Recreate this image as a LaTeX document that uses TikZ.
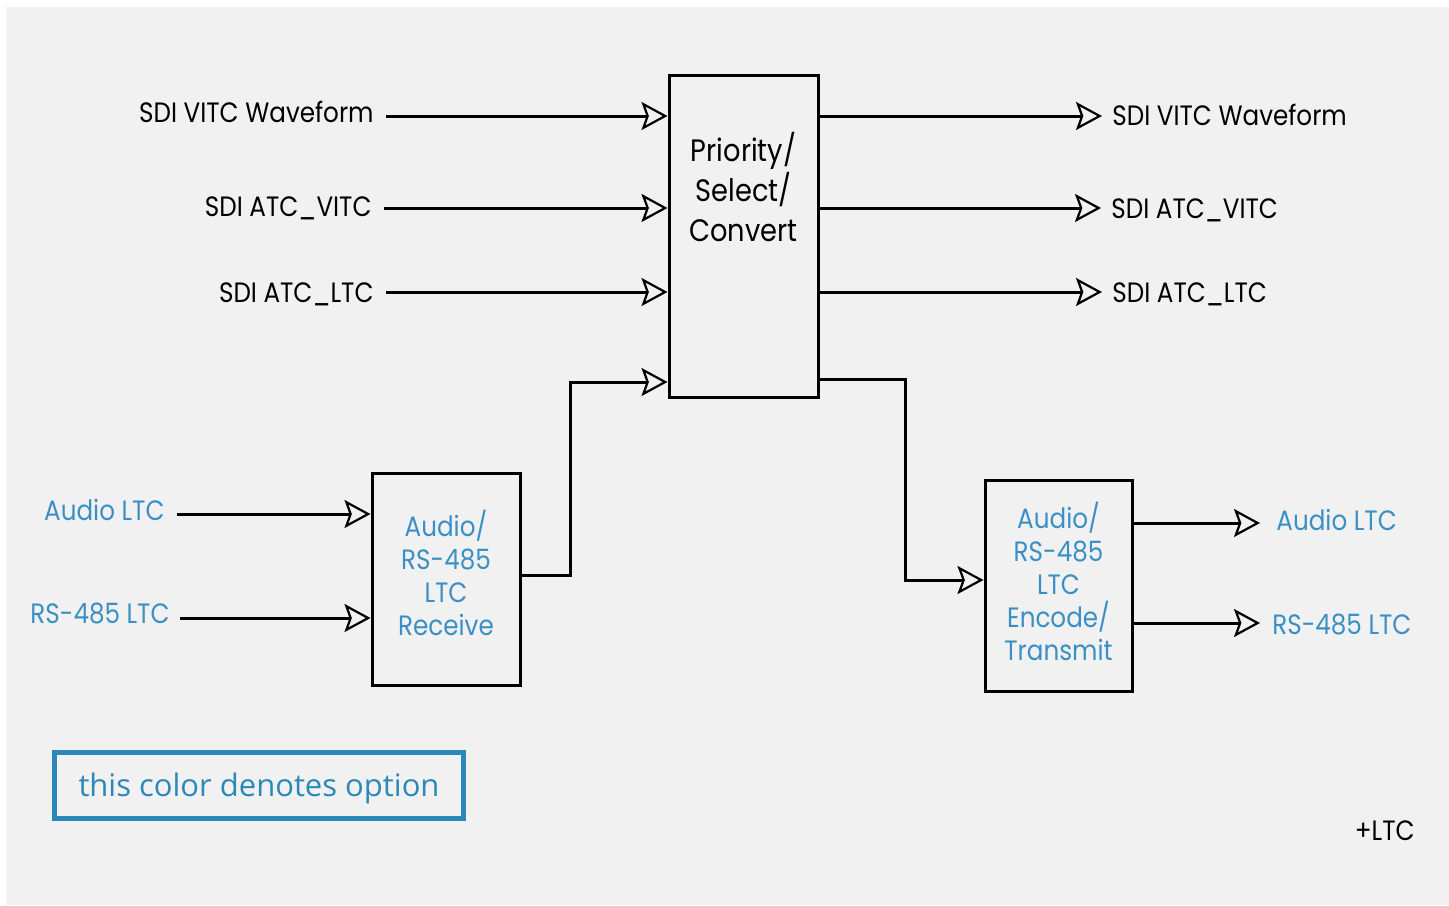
\documentclass[tikz,border=0pt]{standalone}
\usepackage{fontspec}
\setmainfont[FakeStretch=0.88]{Poppins}
\newfontfamily\legendfont{Open Sans}
\usetikzlibrary{arrows.meta}
\definecolor{bggray}{HTML}{F1F1F1}
\definecolor{optblue}{HTML}{3A90C4}
\definecolor{legblue}{HTML}{2B88B8}
\tikzset{
  blk/.style={draw=black, line width=1.5pt, fill=bggray, inner sep=0pt},
  blktext/.style={align=center, inner sep=0pt},
  arr/.style={line width=1.5pt, -{Stealth[open, length=13pt, width=14pt, inset=2.5pt, line width=1.1pt]}},
  lab/.style={font=\fontsize{14}{16}\selectfont, text=black, inner sep=0pt},
  optlab/.style={font=\fontsize{14}{16}\selectfont, text=optblue, inner sep=0pt},
}
\begin{document}
\begin{tikzpicture}[x=0.5pt, y=-0.5pt]
\useasboundingbox (0,0) rectangle (1449,905);
\fill[white] (0,0) rectangle (1449,905);
\fill[bggray] (6,7) rectangle (1449,905);

% blocks
\node[blk, minimum width=74.5pt, minimum height=161pt] (pc) at (743.5,236) {};
\node[blktext, text=black, font=\fontsize{15.5}{20}\selectfont] (pctext) at (743.5,187) {Priority/\\Select/\\Convert};
\node[blk, minimum width=74pt, minimum height=106pt] (rx) at (446,579) {};
\node[blktext, text=optblue, font=\fontsize{14}{16.5}\selectfont] (rxtext) at (446,573) {Audio/\\RS-485\\LTC\\Receive};
\node[blk, minimum width=73.5pt, minimum height=105.5pt] (tx) at (1058.5,585.5) {};
\node[blktext, text=optblue, font=\fontsize{14}{16.5}\selectfont] (txtext) at (1058.5,581) {Audio/\\RS-485\\LTC\\Encode/\\Transmit};

% left input labels
\node[lab, anchor=base east] (l1) at (374,122) {SDI VITC Waveform};
\node[lab, anchor=base east] (l2) at (372,216) {SDI ATC\_VITC};
\node[lab, anchor=base east] (l3) at (374,302) {SDI ATC\_LTC};
\coordinate (i1) at (386,116);
\coordinate (i2) at (384,208);
\coordinate (i3) at (386,292);
\draw[arr] (i1) -- (i1 -| pc.west);
\draw[arr] (i2) -- (i2 -| pc.west);
\draw[arr] (i3) -- (i3 -| pc.west);

% right outputs
\node[lab, anchor=base west] (r1) at (1112,125) {SDI VITC Waveform};
\node[lab, anchor=base west] (r2) at (1111,218) {SDI ATC\_VITC};
\node[lab, anchor=base west] (r3) at (1112,302) {SDI ATC\_LTC};
\coordinate (o1) at (1102,116);
\coordinate (o2) at (1101,208);
\coordinate (o3) at (1102,292);
\draw[arr] (o1 -| pc.east) -- (o1);
\draw[arr] (o2 -| pc.east) -- (o2);
\draw[arr] (o3 -| pc.east) -- (o3);

% receive -> main
\coordinate (j1) at (570,382);
\draw[arr] ([yshift=2pt]rx.east) -| (j1) -- (j1 -| pc.west);

% main -> encode
\coordinate (j2) at (905,379);
\coordinate (j3) at (905,580);
\draw[arr] (j2 -| pc.east) -- (j2) -- (j3) -- (j3 -| tx.west);

% option inputs
\node[optlab, anchor=base east] (a1) at (165,520) {Audio LTC};
\node[optlab, anchor=base east] (a2) at (170,623) {RS-485 LTC};
\coordinate (ai1) at (177,514);
\coordinate (ai2) at (180,618);
\draw[arr] (ai1) -- (ai1 -| rx.west);
\draw[arr] (ai2) -- (ai2 -| rx.west);

% option outputs
\node[optlab, anchor=base west] (b1) at (1276,530) {Audio LTC};
\node[optlab, anchor=base west] (b2) at (1272,634) {RS-485 LTC};
\coordinate (ao1) at (1260,523);
\coordinate (ao2) at (1260,623);
\draw[arr] (ao1 -| tx.east) -- (ao1);
\draw[arr] (ao2 -| tx.east) -- (ao2);

% legend
\node[draw=legblue, line width=2.5pt, minimum width=204.5pt, minimum height=33pt, inner sep=0pt,
      text height=11pt, text depth=0pt,
      text=legblue, font=\legendfont\fontsize{15.5}{18}\selectfont] (leg) at (259,785.5) {this color denotes option};

\node[lab, anchor=base east] (plus) at (1415,840) {+LTC};
\end{tikzpicture}
\end{document}
